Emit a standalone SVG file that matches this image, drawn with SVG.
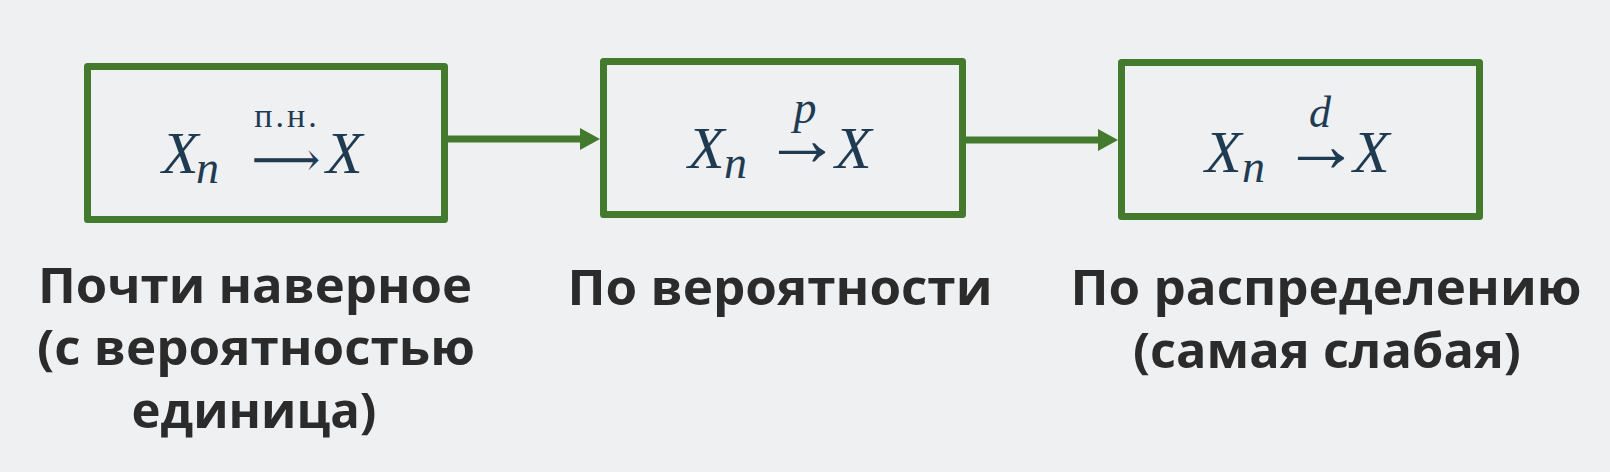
<svg xmlns="http://www.w3.org/2000/svg" width="1610" height="472" viewBox="0 0 1610 472">
<style>
.box{fill:none;stroke:#437a2e;stroke-width:7;stroke-linejoin:round}
.conn{stroke:#437a2e;stroke-width:7;fill:none}
.head{fill:#437a2e}
.m{font-family:"Liberation Serif","DejaVu Serif",serif;font-style:italic;fill:#1f3b52}
.up{font-family:"Liberation Serif","DejaVu Serif",serif;fill:#1f3b52}
.lbl{font-family:"Open Sans","Noto Sans","DejaVu Sans",sans-serif;font-weight:700;font-size:49px;fill:#2b2b2b;text-anchor:middle}
</style>
<rect width="1610" height="472" fill="#eff0f2"/>
<g id="connectors">
<line class="conn" x1="448" y1="139" x2="582" y2="139"/>
<polygon class="head" points="580,128 600,139 580,150"/>
<line class="conn" x1="966" y1="140" x2="1100" y2="140"/>
<polygon class="head" points="1098,129 1118,140 1098,151"/>
</g>
<g id="node1">
<rect class="box" x="87.5" y="66.5" width="357" height="153"/>
<text class="m" x="162" y="173" font-size="60">X</text>
<text class="m" x="196" y="183" font-size="46">n</text>
<text class="up" x="286" y="176" font-size="48" text-anchor="middle">⟶</text>
<text class="up" x="287" y="127" font-size="34" text-anchor="middle" letter-spacing="3">п.н.</text>
<text class="m" x="326" y="173" font-size="60">X</text>
</g>
<g id="node2">
<rect class="box" x="603.5" y="61.5" width="359" height="153"/>
<text class="m" x="688" y="168" font-size="60">X</text>
<text class="m" x="724" y="178" font-size="46">n</text>
<text class="up" x="802" y="165" font-size="78" text-anchor="middle">→</text>
<text class="m" x="805" y="123" font-size="46" text-anchor="middle">p</text>
<text class="m" x="835" y="168" font-size="60">X</text>
</g>
<g id="node3">
<rect class="box" x="1121.5" y="62.5" width="358" height="154"/>
<text class="m" x="1205" y="172" font-size="60">X</text>
<text class="m" x="1242" y="182" font-size="46">n</text>
<text class="up" x="1321" y="171" font-size="78" text-anchor="middle">→</text>
<text class="m" x="1320" y="127" font-size="44" text-anchor="middle">d</text>
<text class="m" x="1353" y="172" font-size="60">X</text>
</g>
<g id="labels">
<text class="lbl" x="255" y="303" textLength="434" lengthAdjust="spacingAndGlyphs">Почти наверное</text>
<text class="lbl" x="256" y="365" textLength="438" lengthAdjust="spacingAndGlyphs">(с вероятностью</text>
<text class="lbl" x="254" y="428" textLength="245" lengthAdjust="spacingAndGlyphs">единица)</text>
<text class="lbl" x="780" y="305" textLength="425" lengthAdjust="spacingAndGlyphs">По вероятности</text>
<text class="lbl" x="1326" y="305" textLength="511" lengthAdjust="spacingAndGlyphs">По распределению</text>
<text class="lbl" x="1327" y="368" textLength="388" lengthAdjust="spacingAndGlyphs">(самая слабая)</text>
</g>
</svg>
